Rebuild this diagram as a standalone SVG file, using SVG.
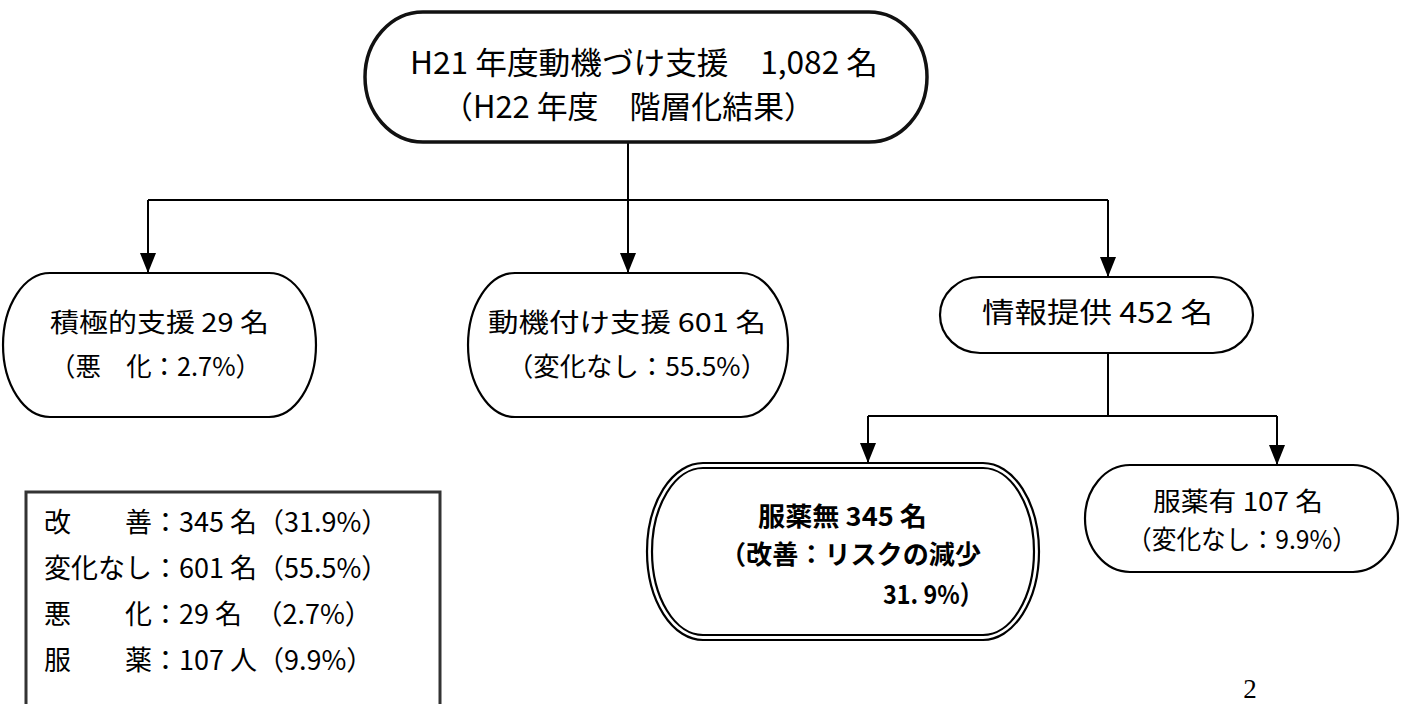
<svg xmlns="http://www.w3.org/2000/svg" width="1409" height="704" viewBox="0 0 1409 704">
<defs>
<marker id="arr" markerUnits="userSpaceOnUse" markerWidth="20" markerHeight="16" viewBox="0 0 20 16" refX="20" refY="8" orient="auto">
<path d="M0,0 L20,8 L0,16 Z" fill="#000"/>
</marker>
</defs>
<style>
.n{fill:#fff;stroke:#000;stroke-width:2.2}
.top{fill:#fff;stroke:#111;stroke-width:3.5}
.c{fill:none;stroke:#000;stroke-width:2}
.t{font-family:"Noto Sans CJK JP","Liberation Sans",sans-serif;fill:#000}
.b{font-weight:bold}
</style>
<rect width="1409" height="704" fill="#fff"/>
<g id="connectors">
<path class="c" d="M628,142 V200 M148,200 H1108"/>
<path class="c" d="M148,200 V273" marker-end="url(#arr)"/>
<path class="c" d="M628,200 V273" marker-end="url(#arr)"/>
<path class="c" d="M1108,200 V277" marker-end="url(#arr)"/>
<path class="c" d="M1108,353 V416 M868,416 H1277"/>
<path class="c" d="M868,416 V463" marker-end="url(#arr)"/>
<path class="c" d="M1277,416 V465" marker-end="url(#arr)"/>
</g>
<g id="n-top">
<path class="top" d="M423,12 H869 A58 65 0 0 1 869,142 H423 A58 65 0 0 1 423,12 Z"/>
<text class="t" x="410" y="74" font-size="31" textLength="468" lengthAdjust="spacingAndGlyphs">H21 年度動機づけ支援　1,082 名</text>
<text class="t" x="442" y="118" font-size="31" textLength="373" lengthAdjust="spacingAndGlyphs">（H22 年度　階層化結果）</text>
</g>
<g id="n-sekkyoku">
<path class="n" d="M50,273 H269 A47 72 0 0 1 269,417 H50 A47 72 0 0 1 50,273 Z"/>
<text class="t" x="50" y="332" font-size="26" textLength="219" lengthAdjust="spacingAndGlyphs">積極的支援 29 名</text>
<text class="t" x="50" y="376" font-size="26" textLength="211" lengthAdjust="spacingAndGlyphs">（悪　化：2.7%）</text>
</g>
<g id="n-douki">
<path class="n" d="M515,273 H741 A47 72 0 0 1 741,417 H515 A47 72 0 0 1 515,273 Z"/>
<text class="t" x="488" y="332" font-size="26" textLength="278" lengthAdjust="spacingAndGlyphs">動機付け支援 601 名</text>
<text class="t" x="507" y="376" font-size="26" textLength="260" lengthAdjust="spacingAndGlyphs">（変化なし：55.5%）</text>
</g>
<g id="n-jouhou">
<path class="n" d="M980,277 H1213 A40 38 0 0 1 1213,353 H980 A40 38 0 0 1 980,277 Z"/>
<text class="t" x="982" y="323" font-size="28" textLength="231" lengthAdjust="spacingAndGlyphs">情報提供 452 名</text>
</g>
<g id="n-fukuyakunashi">
<path class="n" d="M703,463 H983 A56 88.5 0 0 1 983,640 H703 A56 88.5 0 0 1 703,463 Z"/>
<path class="n" d="M703,468 H983 A51 83.5 0 0 1 983,635 H703 A51 83.5 0 0 1 703,468 Z"/>
<text class="t b" x="758" y="526" font-size="26" textLength="169" lengthAdjust="spacingAndGlyphs">服薬無 345 名</text>
<text class="t b" x="720" y="564" font-size="26" textLength="261" lengthAdjust="spacingAndGlyphs">（改善：リスクの減少</text>
<text class="t b" x="883" y="604" font-size="26" textLength="100" lengthAdjust="spacingAndGlyphs">31. 9%）</text>
</g>
<g id="n-fukuyakuari">
<path class="n" d="M1130,465 H1353 A45 53.5 0 0 1 1353,572 H1130 A45 53.5 0 0 1 1130,465 Z"/>
<text class="t" x="1153" y="511" font-size="26" textLength="170" lengthAdjust="spacingAndGlyphs">服薬有 107 名</text>
<text class="t" x="1127" y="549" font-size="26" textLength="230" lengthAdjust="spacingAndGlyphs">（変化なし：9.9%）</text>
</g>
<g id="legend">
<rect x="26" y="492" width="414" height="220" fill="#fff" stroke="#333" stroke-width="3"/>
<text class="t" x="44" y="532" font-size="27">改　　善：345 名（31.9%）</text>
<text class="t" x="44" y="578" font-size="27">変化なし：601 名（55.5%）</text>
<text class="t" x="44" y="624" font-size="27">悪　　化：29 名　（2.7%）</text>
<text class="t" x="44" y="670" font-size="27">服　　薬：107 人（9.9%）</text>
</g>
<text x="1250" y="698" font-family="Liberation Serif, serif" font-size="27" text-anchor="middle">2</text>
</svg>
